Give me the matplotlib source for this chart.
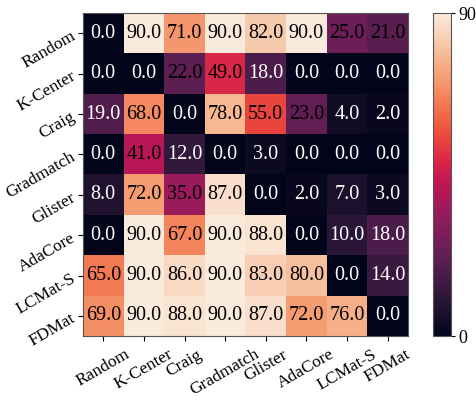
import matplotlib
matplotlib.use("Agg")
import matplotlib.pyplot as plt
import numpy as np
import seaborn as sns

plt.rcParams['font.family'] = ['Liberation Serif', 'DejaVu Serif']

methods = ['Random', 'K-Center', 'Craig', 'Gradmatch', 'Glister',
           'AdaCore', 'LCMat-S', 'FDMat']

# rows = method compared, cols = against
scores = np.array([
    [0.0, 90.0, 71.0, 90.0, 82.0, 90.0, 25.0, 21.0],
    [0.0, 0.0, 22.0, 49.0, 18.0, 0.0, 0.0, 0.0],
    [19.0, 68.0, 0.0, 78.0, 55.0, 23.0, 4.0, 2.0],
    [0.0, 41.0, 12.0, 0.0, 3.0, 0.0, 0.0, 0.0],
    [8.0, 72.0, 35.0, 87.0, 0.0, 2.0, 7.0, 3.0],
    [0.0, 90.0, 67.0, 90.0, 88.0, 0.0, 10.0, 18.0],
    [65.0, 90.0, 86.0, 90.0, 83.0, 80.0, 0.0, 14.0],
    [69.0, 90.0, 88.0, 90.0, 87.0, 72.0, 76.0, 0.0],
])

cmap = sns.color_palette("rocket", as_cmap=True)

fig = plt.figure(figsize=(4.77, 4.01), dpi=100)
ax = fig.add_axes([0.174, 0.162, 0.681, 0.805])
cax = fig.add_axes([0.908, 0.162, 0.038, 0.805])

im = ax.imshow(scores, cmap=cmap, vmin=0, vmax=90, aspect='auto')

for i in range(scores.shape[0]):
    for j in range(scores.shape[1]):
        v = scores[i, j]
        col = 'black' if v > 20 else 'white'
        ax.text(j, i, f"{v:.1f}", ha='center', va='center', fontsize=14.5, color=col)

ax.set_xticks(range(len(methods)))
ax.set_yticks(range(len(methods)))
ax.set_xticklabels(methods, rotation=30, ha='center', fontsize=12.5)
ax.set_yticklabels(methods, rotation=30, ha='right', rotation_mode='anchor', fontsize=12.5)
ax.tick_params(axis='x', pad=4)
for s in ax.spines.values():
    s.set_color('#555555')
    s.set_linewidth(0.8)

cb = fig.colorbar(im, cax=cax)
cb.set_ticks([0, 90])
cb.ax.tick_params(labelsize=13, length=3, pad=2)
cb.outline.set_edgecolor('#555555')
cb.outline.set_linewidth(0.8)

fig.savefig('out.png', dpi=100)
